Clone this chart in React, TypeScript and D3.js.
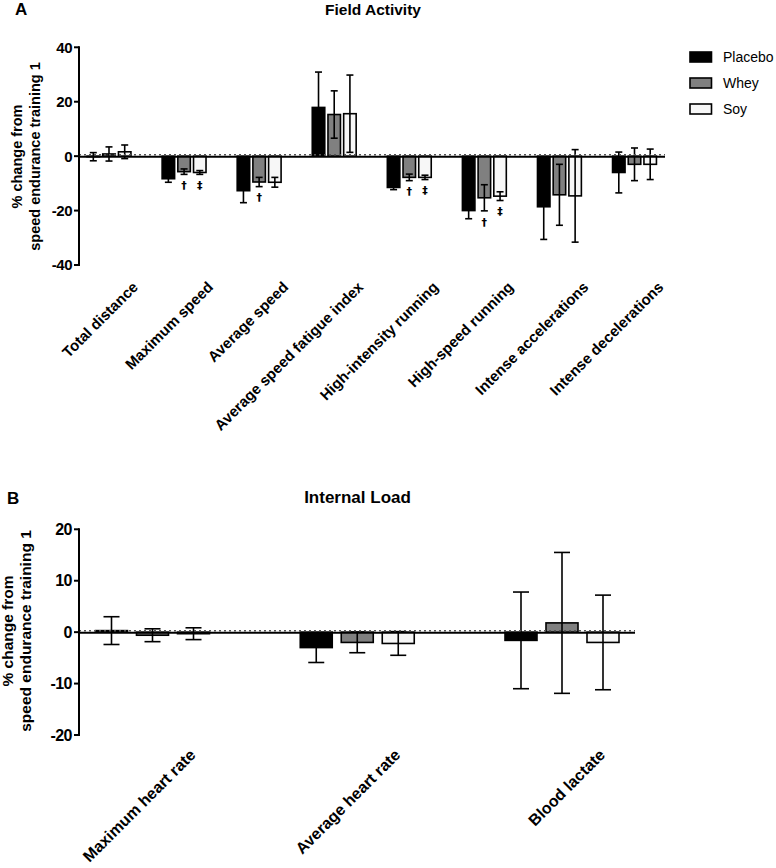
import React from "react";
import * as d3 from "d3";

const seriesNames = ["Placebo", "Whey", "Soy"];
const seriesFill = ["#000000", "#808080", "#f7f7f7"];

const fieldCategories = [
  "Total distance",
  "Maximum speed",
  "Average speed",
  "Average speed fatigue index",
  "High-intensity running",
  "High-speed running",
  "Intense accelerations",
  "Intense decelerations",
];
const fieldPlacebo = [-0.2, -8.3, -12.7, 17.9, -11.5, -20, -18.6, -6];
const fieldPlaceboErr = [1.5, 1.3, 4.4, 13, 0.8, 3, 12, 7.5];
const fieldWhey = [0.8, -5.7, -9.5, 15.3, -7.8, -15.3, -14.2, -3];
const fieldWheyErr = [2.6, 1.0, 1.7, 8.7, 1.2, 4.8, 11.2, 6];
const fieldSoy = [1.6, -6.0, -9.6, 15.6, -7.8, -14.7, -14.6, -3];
const fieldSoyErr = [2.5, 0.7, 1.8, 14.2, 0.8, 1.6, 17, 5.6];
const fieldTicks = [40, 20, 0, -20, -40];

// significance marks: [category index, series index, symbol]
const fieldMarks: [number, number, string][] = [
  [1, 1, "†"],
  [1, 2, "‡"],
  [2, 1, "†"],
  [4, 1, "†"],
  [4, 2, "‡"],
  [5, 1, "†"],
  [5, 2, "‡"],
];

const loadCategories = ["Maximum heart rate", "Average heart rate", "Blood lactate"];
const loadPlacebo = [0.3, -3.0, -1.6];
const loadPlaceboErr = [2.7, 2.9, 9.4];
const loadWhey = [-0.6, -2.0, 1.8];
const loadWheyErr = [1.25, 2.0, 13.7];
const loadSoy = [-0.3, -2.2, -2.0];
const loadSoyErr = [1.15, 2.3, 9.2];
const loadTicks = [20, 10, 0, -10, -20];

const FONT = "'Liberation Sans', Arial, Helvetica, sans-serif";

type PanelProps = {
  categories: string[];
  means: number[][];
  errs: number[][];
  ticks: number[];
  yDomain: [number, number];
  yRange: [number, number];
  xRange: [number, number];
  axisX: number;
  lineEnd: number;
  barOffset: number;
  barWidth: number;
  capW: number;
  tickFont: number;
  labelFont: number;
  labelDx: number;
  labelY: number;
  marks?: [number, number, string][];
};

function Panel(p: PanelProps) {
  const y = d3.scaleLinear().domain(p.yDomain).range(p.yRange);
  const x = d3.scalePoint<string>().domain(p.categories).range(p.xRange);
  const y0 = y(0);
  const offsets = [-p.barOffset, 0, p.barOffset];
  return (
    <g>
      {/* bars */}
      {p.categories.map((c, i) =>
        p.means.map((m, s) => {
          const v = m[i];
          const cx = (x(c) as number) + offsets[s];
          const top = Math.min(y(v), y0);
          const h = Math.abs(y(v) - y0);
          return (
            <rect
              key={`b${i}-${s}`}
              x={cx - p.barWidth / 2}
              y={top}
              width={p.barWidth}
              height={h}
              fill={seriesFill[s]}
              stroke="#000"
              strokeWidth={1.6}
            />
          );
        })
      )}
      {/* error bars */}
      {p.categories.map((c, i) =>
        p.means.map((m, s) => {
          const v = m[i];
          const e = p.errs[s][i];
          const cx = (x(c) as number) + offsets[s];
          const yt = y(v + e);
          const yb = y(v - e);
          return (
            <g key={`e${i}-${s}`} stroke="#000" strokeWidth={1.6}>
              <line x1={cx} x2={cx} y1={yt} y2={yb} />
              <line x1={cx - p.capW / 2} x2={cx + p.capW / 2} y1={yt} y2={yt} />
              <line x1={cx - p.capW / 2} x2={cx + p.capW / 2} y1={yb} y2={yb} />
            </g>
          );
        })
      )}
      {/* zero line */}
      <line x1={p.axisX} x2={p.lineEnd} y1={y0 + 0.5} y2={y0 + 0.5} stroke="#000" strokeWidth={2} />
      <line
        x1={p.axisX}
        x2={p.lineEnd}
        y1={y0 - 1.5}
        y2={y0 - 1.5}
        stroke="#555"
        strokeWidth={1.5}
        strokeDasharray="2 3"
      />
      {/* y axis */}
      <line
        x1={p.axisX}
        x2={p.axisX}
        y1={y(p.yDomain[1]) - 1}
        y2={y(p.yDomain[0]) + 1}
        stroke="#000"
        strokeWidth={2}
      />
      {p.ticks.map((t) => (
        <g key={`t${t}`}>
          <line x1={p.axisX - 5} x2={p.axisX} y1={y(t)} y2={y(t)} stroke="#000" strokeWidth={2} />
          <text
            x={p.axisX - 7}
            y={y(t)}
            dy="0.36em"
            textAnchor="end"
            fontFamily={FONT}
            fontWeight="bold"
            fontSize={p.tickFont}
            letterSpacing={-0.5}
          >
            {t}
          </text>
        </g>
      ))}
      {/* category labels */}
      {p.categories.map((c) => {
        const ax = (x(c) as number) + p.labelDx;
        return (
          <text
            key={`l${c}`}
            transform={`translate(${ax},${p.labelY}) rotate(-45)`}
            textAnchor="end"
            fontFamily={FONT}
            fontWeight="bold"
            fontSize={p.labelFont}
          >
            {c}
          </text>
        );
      })}
      {/* significance marks */}
      {(p.marks || []).map(([ci, s, sym], k) => {
        const c = p.categories[ci];
        const cx = (x(c) as number) + offsets[s];
        const v = p.means[s][ci] - p.errs[s][ci];
        return (
          <text
            key={`m${k}`}
            x={cx}
            y={y(v) + 11}
            dy="0.35em"
            textAnchor="middle"
            fontFamily="'DejaVu Sans', 'Liberation Sans', sans-serif"
            fontWeight="bold"
            fontSize={11}
            fill="#000"
          >
            {sym}
          </text>
        );
      })}
    </g>
  );
}

export default function App() {
  return (
    <div style={{ position: "absolute", left: 0, top: 0 }}>
      <svg width={776} height={868} style={{ display: "block", background: "#fff" }}>
        {/* Panel A */}
        <text x={15} y={15} fontFamily={FONT} fontWeight="bold" fontSize={17}>
          A
        </text>
        <text x={373} y={14.5} textAnchor="middle" fontFamily={FONT} fontWeight="bold" fontSize={15.5}>
          Field Activity
        </text>
        <text
          transform="translate(22,156.5) rotate(-90)"
          textAnchor="middle"
          fontFamily={FONT}
          fontWeight="bold"
          fontSize={14.5}
        >
          % change from
        </text>
        <text
          transform="translate(40,156.5) rotate(-90)"
          textAnchor="middle"
          fontFamily={FONT}
          fontWeight="bold"
          fontSize={14.5}
        >
          speed endurance training 1
        </text>
        <Panel
          categories={fieldCategories}
          means={[fieldPlacebo, fieldWhey, fieldSoy]}
          errs={[fieldPlaceboErr, fieldWheyErr, fieldSoyErr]}
          ticks={fieldTicks}
          yDomain={[-40, 40]}
          yRange={[265, 47.3]}
          xRange={[109, 634.5]}
          axisX={79}
          lineEnd={665}
          barOffset={15.7}
          barWidth={12.5}
          capW={7}
          tickFont={15}
          labelFont={15}
          labelDx={30}
          labelY={288}
          marks={fieldMarks}
        />
        {/* Legend */}
        {seriesNames.map((n, i) => (
          <g key={n}>
            <rect
              x={690}
              y={52 + i * 26}
              width={21.5}
              height={10}
              fill={seriesFill[i]}
              stroke="#000"
              strokeWidth={1.6}
            />
            <text x={723} y={62 + i * 26} fontFamily={FONT} fontSize={14}>
              {n}
            </text>
          </g>
        ))}

        {/* Panel B */}
        <text x={7} y={503.5} fontFamily={FONT} fontWeight="bold" fontSize={17}>
          B
        </text>
        <text x={357.5} y={503} textAnchor="middle" fontFamily={FONT} fontWeight="bold" fontSize={17}>
          Internal Load
        </text>
        <text
          transform="translate(12.5,631) rotate(-90)"
          textAnchor="middle"
          fontFamily={FONT}
          fontWeight="bold"
          fontSize={15.5}
        >
          % change from
        </text>
        <text
          transform="translate(31,631) rotate(-90)"
          textAnchor="middle"
          fontFamily={FONT}
          fontWeight="bold"
          fontSize={15.5}
        >
          speed endurance training 1
        </text>
        <Panel
          categories={loadCategories}
          means={[loadPlacebo, loadWhey, loadSoy]}
          errs={[loadPlaceboErr, loadWheyErr, loadSoyErr]}
          ticks={loadTicks}
          yDomain={[-20, 20]}
          yRange={[735, 529.3]}
          xRange={[152.5, 562]}
          axisX={79}
          lineEnd={635}
          barOffset={41}
          barWidth={32}
          capW={16}
          tickFont={16}
          labelFont={16}
          labelDx={44}
          labelY={756}
        />
      </svg>
    </div>
  );
}
